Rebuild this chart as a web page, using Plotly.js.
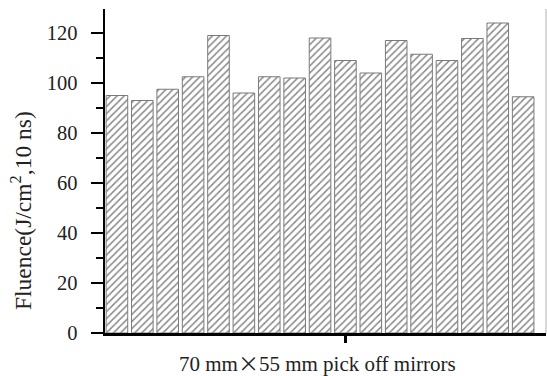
<!DOCTYPE html>
<html>
<head>
<meta charset="utf-8">
<script src="https://cdn.plot.ly/plotly-3.0.1.min.js"></script>
<style>html,body{margin:0;padding:0;background:#fff;}#chart{width:547px;height:376px;}</style>
</head>
<body>
<div id="chart"></div>
<script>
// Data
const mirrorIndex = [1,2,3,4,5,6,7,8,9,10,11,12,13,14,15,16,17];
const fluence = [95, 93, 97.5, 102.5, 119, 96, 102.5, 102, 118, 109, 104, 117, 111.5, 109, 117.8, 124, 94.5];
const yTickVals = [0, 20, 40, 60, 80, 100, 120];
const yTickText = ['0', '20', '40', '60', '80', '100', '120'];
const xTickVals = [10];
const xTitle = '70 mm<span style="font-family:\'Noto Sans CJK SC\'">×</span>55 mm pick off mirrors';
const yTitle = 'Fluence(J/cm<sup>2</sup>,10 ns)';

const FONT = 'Liberation Serif';

const trace = {
  type: 'bar',
  x: mirrorIndex,
  y: fluence,
  marker: {
    color: '#ffffff',
    line: {color: '#7a7a7a', width: 1},
    pattern: {shape: '/', fgcolor: '#8a8a8a', bgcolor: '#ffffff', size: 5, solidity: 0.3}
  },
  hoverinfo: 'skip'
};

const layout = {
  width: 547, height: 376,
  margin: {l: 105, r: 1, t: 9, b: 43, pad: 0},
  paper_bgcolor: '#ffffff', plot_bgcolor: '#ffffff',
  showlegend: false,
  bargap: 0.15,
  font: {family: FONT, size: 21, color: '#222'},
  xaxis: {
    range: [0.53, 17.9],
    tickvals: xTickVals, ticktext: [''],
    ticks: 'outside', ticklen: 7, tickwidth: 2.5, tickcolor: '#000',
    showline: true, linecolor: '#000', linewidth: 2.5,
    showgrid: false, zeroline: false
  },
  xaxis2: {
    overlaying: 'x', side: 'top', matches: 'x',
    range: [0.53, 17.9],
    tickvals: xTickVals, ticktext: [''],
    ticks: 'inside', ticklen: 6, tickwidth: 2.5, tickcolor: '#000',
    showline: true, linecolor: '#000', linewidth: 2.5,
    showgrid: false, zeroline: false, showticklabels: false
  },
  yaxis: {
    range: [0, 129.6],
    tickvals: yTickVals, ticktext: yTickText,
    ticks: 'outside', ticklen: 12, tickwidth: 2.5, tickcolor: '#000',
    ticklabelstandoff: 9,
    minor: {dtick: 10, tick0: 10, ticks: 'outside', ticklen: 7, tickwidth: 2.5, tickcolor: '#000', showgrid: false},
    showline: true, linecolor: '#000', linewidth: 2.5,
    showgrid: false, zeroline: false,
    tickfont: {family: FONT, size: 20.5, color: '#222'}
  },
  shapes: [
    {type: 'line', xref: 'paper', yref: 'paper', x0: 1, x1: 1, y0: 0, y1: 1, line: {color: '#b0b0b0', width: 1}}
  ],
  annotations: [
    {text: yTitle, xref: 'paper', yref: 'paper', x: -0.19, y: 0.377, textangle: -90,
     showarrow: false, xanchor: 'center', yanchor: 'middle', font: {family: FONT, size: 23.5, color: '#222'}},
    {text: xTitle, xref: 'paper', yref: 'paper', x: 0.481, y: -0.088,
     showarrow: false, xanchor: 'center', yanchor: 'middle', font: {family: FONT, size: 21, color: '#222'}}
  ]
};

Plotly.newPlot('chart', [trace], layout, {displayModeBar: false, staticPlot: true});
</script>
</body>
</html>
